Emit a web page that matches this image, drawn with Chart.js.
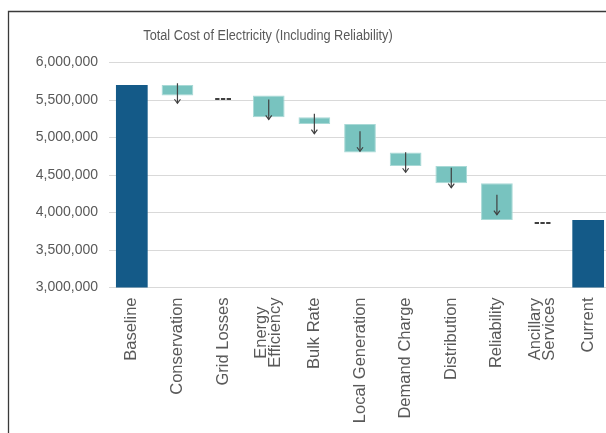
<!DOCTYPE html>
<html>
<head>
<meta charset="utf-8">
<script src="https://cdn.jsdelivr.net/npm/chart.js@4.4.1/dist/chart.umd.min.js"></script>
<style>
  html, body { margin: 0; padding: 0; background: #ffffff; overflow: hidden; width: 606px; height: 433px; }
  canvas { display: block; }
</style>
</head>
<body>
<canvas id="chart" width="611" height="433" style="width:611px;height:433px"></canvas>
<script>
// Waterfall: total cost of electricity, step by step from baseline to current
const categories = [
  'Baseline', 'Conservation', 'Grid Losses', ['Energy', 'Efficiency'], 'Bulk Rate',
  'Local Generation', 'Demand Charge', 'Distribution', 'Reliability',
  ['Ancillary', 'Services'], 'Current'
];
const startTotal = 5700000;
// change contributed by each intermediate step (0 = no change)
const changes = [-140000, 0, -290000, -90000, -380000, -180000, -230000, -490000, 0];
const endTotal = 3900000;

const axisMin = 3000000;
const axisMax = 6000000;
const axisStep = 500000;
const titleText = 'Total Cost of Electricity (Including Reliability)';

const TOTAL_COLOR = '#145A88';
const STEP_COLOR = '#78C3BF';
const TEXT_COLOR = '#595959';

// build floating bars for the steps, plain bars for the two totals
const barData = [startTotal];
const levels = [startTotal];   // running total at the end of each category
let running = startTotal;
changes.forEach(c => {
  const next = running + c;
  barData.push(c === 0 ? null : [Math.min(running, next), Math.max(running, next)]);
  running = next;
  levels.push(running);
});
barData.push(endTotal);
levels.push(endTotal);

const isTotal = barData.map((_, i) => i === 0 || i === barData.length - 1);

// arrows on every step bar, "---" where a step changes nothing
const stepMarks = {
  id: 'stepMarks',
  afterDatasetsDraw(chart) {
    const ctx = chart.ctx;
    const meta = chart.getDatasetMeta(0);
    const y = chart.scales.y;
    ctx.save();
    changes.forEach((c, k) => {
      const i = k + 1;
      const bar = meta.data[i];
      const cx = bar.x;
      if (c === 0) {
        const py = y.getPixelForValue(levels[i]) + 2.5;
        ctx.fillStyle = '#404040';
        ctx.font = 'bold 17px "Liberation Sans", Arial, sans-serif';
        ctx.textAlign = 'center';
        ctx.textBaseline = 'alphabetic';
        ctx.fillText('---', cx, py + 17 * 0.27);
        return;
      }
      const mid = (bar.y + bar.base) / 2;
      const dir = c < 0 ? 1 : -1;
      const y0 = mid - 7 * dir;
      const y1 = mid + 13 * dir;
      ctx.strokeStyle = '#404040';
      ctx.lineWidth = 1.2;
      ctx.beginPath();
      ctx.moveTo(cx, y0);
      ctx.lineTo(cx, y1);
      ctx.stroke();
      ctx.beginPath();
      ctx.moveTo(cx - 3, y1 - 4 * dir);
      ctx.lineTo(cx, y1);
      ctx.lineTo(cx + 3, y1 - 4 * dir);
      ctx.stroke();
    });
    ctx.restore();
  }
};

// chart frame and a condensed title
const frameAndTitle = {
  id: 'frameAndTitle',
  afterDraw(chart) {
    const ctx = chart.ctx;
    ctx.save();
    ctx.strokeStyle = '#3a3a3a';
    ctx.lineWidth = 1.3;
    ctx.beginPath();
    ctx.moveTo(8.5, 433);
    ctx.lineTo(8.5, 11.5);
    ctx.lineTo(611, 11.5);
    ctx.stroke();
    ctx.fillStyle = TEXT_COLOR;
    ctx.font = '15.5px "Liberation Sans", Arial, sans-serif';
    ctx.textAlign = 'center';
    ctx.textBaseline = 'alphabetic';
    ctx.translate(268, 39.5);
    ctx.scale(0.82, 1);
    ctx.fillText(titleText, 0, 0);
    ctx.restore();
  }
};

// centre the lines of two-line category labels on their tick
const centerMultiLineLabels = {
  id: 'centerMultiLineLabels',
  afterLayout(chart) {
    const sc = chart.scales.x;
    sc._labelItems = null;
    const items = sc.getLabelItems();
    const ctx = chart.ctx;
    items.forEach(it => {
      if (Array.isArray(it.label) && it.label.length > 1) {
        const lh = it.font.lineHeight;
        ctx.save();
        ctx.font = it.font.string;
        const w = Math.max(...it.label.map(s => ctx.measureText(s).width));
        ctx.restore();
        const t = it.options.translation;
        it.options.translation = [t[0] - (it.label.length - 1) * lh / 2, t[1] + w / 2];
        it.options.textAlign = 'center';
      }
    });
  }
};

new Chart(document.getElementById('chart'), {
  type: 'bar',
  data: {
    labels: categories,
    datasets: [{
      data: barData,
      backgroundColor: isTotal.map(t => t ? TOTAL_COLOR : STEP_COLOR),
      borderColor: isTotal.map(t => t ? TOTAL_COLOR : '#A8D9D6'),
      borderWidth: isTotal.map(t => t ? 0 : 1),
      borderSkipped: false,
      barPercentage: 0.695,
      categoryPercentage: 1.0
    }]
  },
  options: {
    responsive: false,
    devicePixelRatio: 1,
    animation: false,
    layout: { padding: { top: 62.5, left: 0, right: 0, bottom: 0 } },
    plugins: {
      legend: { display: false },
      tooltip: { enabled: false },
      title: { display: false }
    },
    scales: {
      x: {
        grid: { display: false, drawTicks: false },
        border: { display: false },
        ticks: {
          autoSkip: false,
          minRotation: 90,
          maxRotation: 90,
          padding: 10,
          color: TEXT_COLOR,
          font: { family: '"Liberation Sans", Arial, sans-serif', size: 16.5, lineHeight: 0.87 }
        },
        afterFit(s) { s.height = 145.5; s.paddingLeft = 0; s.paddingRight = 0; }
      },
      y: {
        min: axisMin,
        max: axisMax,
        grid: { color: '#D9D9D9', lineWidth: 1, drawTicks: false },
        border: { display: false },
        ticks: {
          stepSize: axisStep,
          padding: 11,
          color: TEXT_COLOR,
          font: { family: '"Liberation Sans", Arial, sans-serif', size: 14 },
          callback: v => Number(v).toLocaleString('en-US')
        },
        afterFit(s) { s.width = 109; }
      }
    }
  },
  plugins: [stepMarks, frameAndTitle, centerMultiLineLabels]
});
</script>
</body>
</html>
